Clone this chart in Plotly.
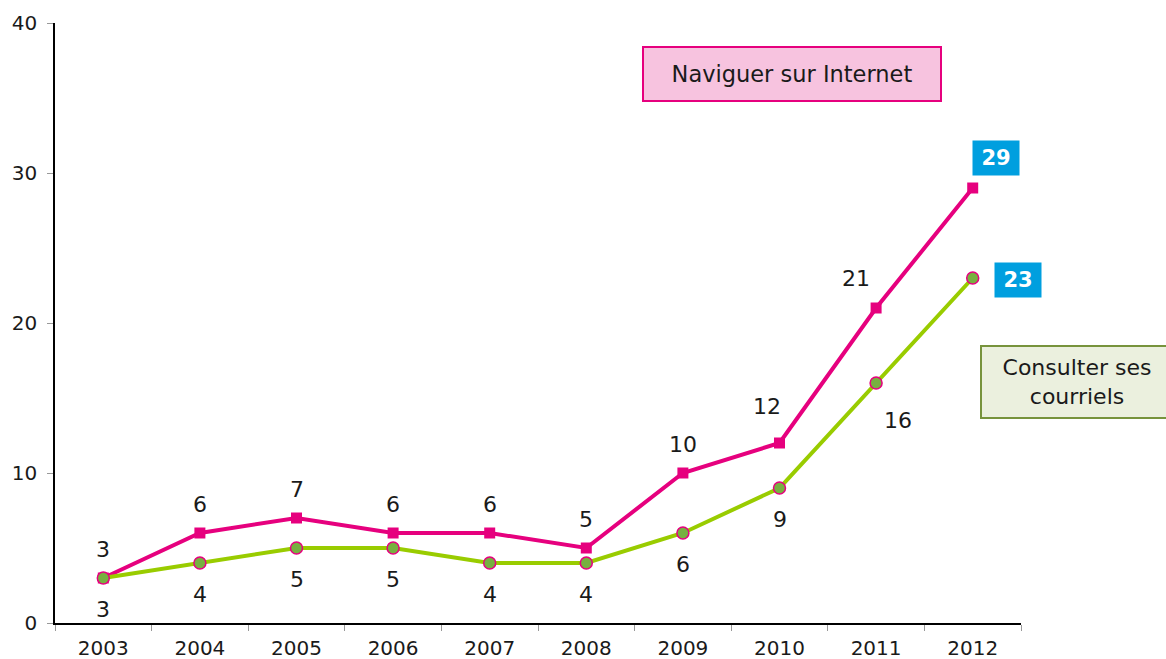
import plotly.graph_objects as go

years = ["2003", "2004", "2005", "2006", "2007", "2008", "2009", "2010", "2011", "2012"]
internet = [3, 6, 7, 6, 6, 5, 10, 12, 21, 29]
courriels = [3, 4, 5, 5, 4, 4, 6, 9, 16, 23]
y_ticks = [0, 10, 20, 30, 40]

PINK = "#e6007e"
GREEN_LINE = "#99cc00"
GREEN_FILL = "#77b040"
FONT = "DejaVu Sans"
TXT = "#1a1a1a"

fig = go.Figure()
fig.add_trace(go.Scatter(
    x=years, y=internet, mode="lines+markers", name="Naviguer sur Internet",
    line=dict(color=PINK, width=4),
    marker=dict(symbol="square", size=11, color=PINK),
    cliponaxis=False,
))
fig.add_trace(go.Scatter(
    x=years, y=courriels, mode="lines+markers", name="Consulter ses courriels",
    line=dict(color=GREEN_LINE, width=4),
    marker=dict(symbol="circle", size=12, color=GREEN_FILL, line=dict(color=PINK, width=1.5)),
    cliponaxis=False,
))

annotations = []
LBL = dict(family=FONT, size=22, color=TXT)
# pink labels (above)
pink_shift = {7: (-13, 37), 8: (-20, 30)}
for i, v in enumerate(internet[:-1]):
    xs, ys = pink_shift.get(i, (0, 29))
    annotations.append(dict(x=i, y=v, text=str(v), showarrow=False, xshift=xs, yshift=ys,
                            xanchor="center", yanchor="middle", font=LBL))
# green labels (below)
green_shift = {8: (22, -37)}
for i, v in enumerate(courriels[:-1]):
    xs, ys = green_shift.get(i, (0, -31))
    annotations.append(dict(x=i, y=v, text=str(v), showarrow=False, xshift=xs, yshift=ys,
                            xanchor="center", yanchor="middle", font=LBL))
# final values in blue boxes
last = len(years) - 1
annotations.append(dict(x=last, y=internet[-1], text="<b>%d</b>" % internet[-1], showarrow=False,
                        xshift=23, yshift=30, xanchor="center", yanchor="middle",
                        bgcolor="#009fdf", width=40, height=28, borderpad=3,
                        font=dict(family=FONT, size=21, color="white")))
annotations.append(dict(x=last, y=courriels[-1], text="<b>%d</b>" % courriels[-1], showarrow=False,
                        xshift=45, yshift=-2, xanchor="center", yanchor="middle",
                        bgcolor="#009fdf", width=40, height=28, borderpad=3,
                        font=dict(family=FONT, size=21, color="white")))
# series name boxes
annotations.append(dict(xref="paper", yref="paper", x=0.763, y=0.915, text="Naviguer sur Internet",
                        xanchor="center", yanchor="middle",
                        showarrow=False, bgcolor="#f7c3df", bordercolor=PINK, borderwidth=2,
                        width=292, height=48, borderpad=2,
                        font=dict(family=FONT, size=22.5, color=TXT)))
annotations.append(dict(xref="paper", yref="paper", x=1.058, y=0.4017,
                        xanchor="center", yanchor="middle",
                        text="Consulter ses<br>courriels",
                        showarrow=False, bgcolor="#ebf0de", bordercolor="#77933c", borderwidth=2,
                        width=186, height=66, borderpad=2,
                        font=dict(family=FONT, size=22, color=TXT)))

fig.update_layout(
    width=1166, height=659,
    margin=dict(l=55, r=145, t=23, b=36, autoexpand=False),
    paper_bgcolor="white", plot_bgcolor="white",
    showlegend=False,
    annotations=annotations,
    font=dict(family=FONT, size=20, color=TXT),
    xaxis=dict(
        type="category", range=[-0.5, 9.5], automargin=False,
        showline=True, linecolor="black", linewidth=1.5,
        ticks="outside", tickson="boundaries", ticklen=6, tickcolor="#999999",
        showgrid=False, zeroline=False, ticklabelstandoff=6,
        tickfont=dict(family=FONT, size=20, color=TXT),
    ),
    yaxis=dict(
        range=[0, 40], tickvals=y_ticks, automargin=False,
        showline=True, linecolor="black", linewidth=1.5,
        ticks="outside", ticklen=6, tickcolor="#999999",
        showgrid=False, zeroline=False, ticklabelstandoff=6,
        tickfont=dict(family=FONT, size=20, color=TXT),
    ),
)

fig.write_html(
    "out.html",
    config={"displayModeBar": False},
    post_script="document.body.style.margin='0';document.body.style.overflow='hidden';",
)
